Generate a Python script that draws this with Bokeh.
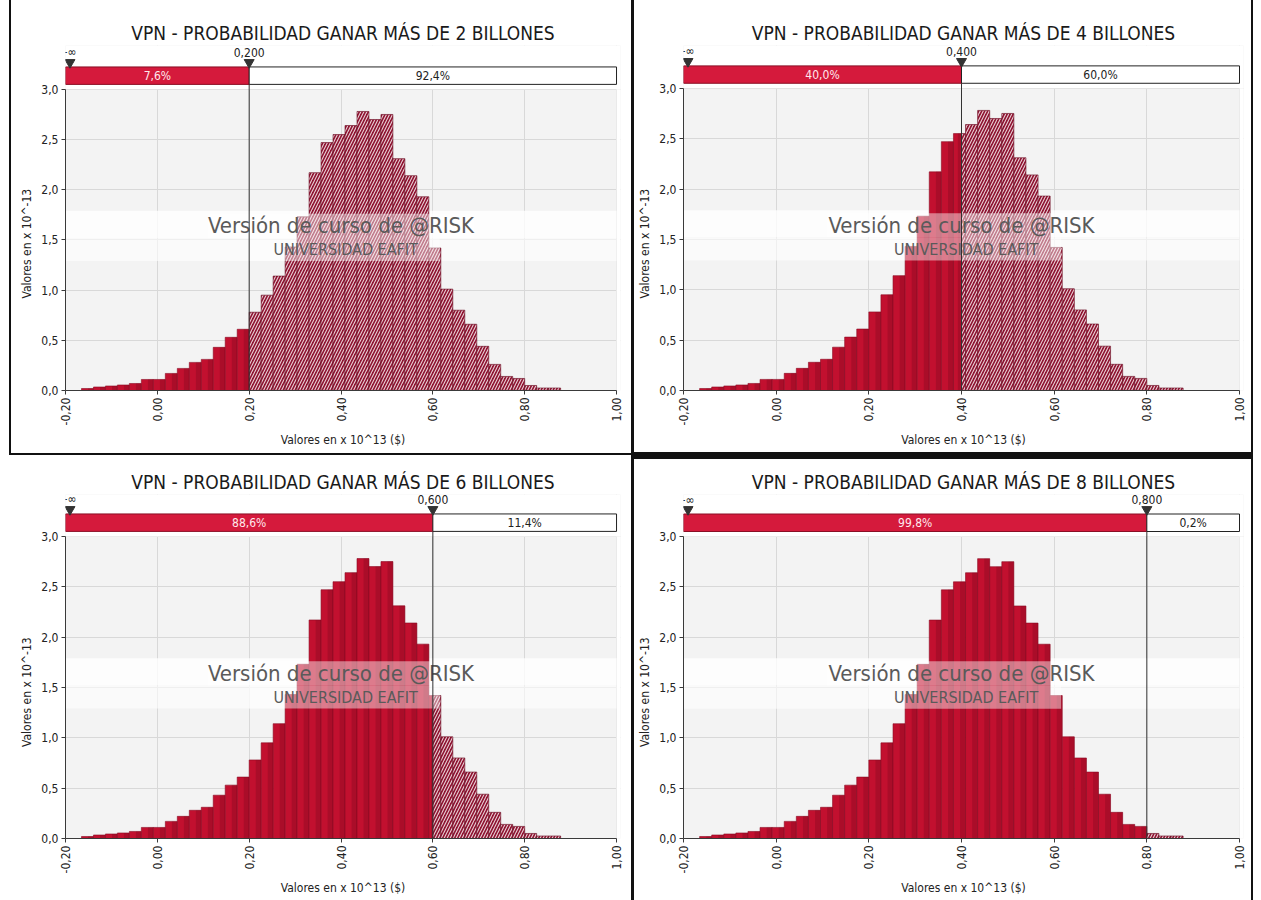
import math
from bokeh.plotting import figure
from bokeh.layouts import gridplot
from bokeh.models import FixedTicker
from bokeh.core.properties import value
from bokeh.embed import file_html
from bokeh.resources import INLINE

# ---------------- data ----------------
bin_edges = [-0.1652, -0.1391, -0.1130, -0.0870, -0.0609, -0.0348, -0.0087, 0.0174,
             0.0435, 0.0696, 0.0957, 0.1217, 0.1478, 0.1739, 0.2000, 0.2261,
             0.2522, 0.2783, 0.3043, 0.3304, 0.3565, 0.3826, 0.4087, 0.4348,
             0.4609, 0.4870, 0.5130, 0.5391, 0.5652, 0.5913, 0.6174, 0.6435,
             0.6696, 0.6957, 0.7217, 0.7478, 0.7739, 0.8000, 0.8261, 0.8522, 0.8783]
density = [0.02, 0.035, 0.045, 0.055, 0.07, 0.11, 0.11, 0.17, 0.22, 0.28,
           0.31, 0.43, 0.53, 0.61, 0.78, 0.95, 1.14, 1.43, 1.73, 2.17,
           2.47, 2.55, 2.64, 2.78, 2.70, 2.75, 2.31, 2.14, 1.93, 1.42,
           1.01, 0.80, 0.66, 0.44, 0.26, 0.14, 0.12, 0.05, 0.025, 0.025]

x_ticks = [-0.2, 0.0, 0.2, 0.4, 0.6, 0.8, 1.0]
x_tick_labels = ["-0,20", "0,00", "0,20", "0,40", "0,60", "0,80", "1,00"]
y_ticks = [0.0, 0.5, 1.0, 1.5, 2.0, 2.5, 3.0]
y_tick_labels = ["0,0", "0,5", "1,0", "1,5", "2,0", "2,5", "3,0"]

titles = ["VPN - PROBABILIDAD GANAR MÁS DE 2 BILLONES",
          "VPN - PROBABILIDAD GANAR MÁS DE 4 BILLONES",
          "VPN - PROBABILIDAD GANAR MÁS DE 6 BILLONES",
          "VPN - PROBABILIDAD GANAR MÁS DE 8 BILLONES"]
thresholds = [0.2, 0.4, 0.6, 0.8]
threshold_labels = ["0,200", "0,400", "0,600", "0,800"]
pct_left = ["7,6%", "40,0%", "88,6%", "99,8%"]
pct_right = ["92,4%", "60,0%", "11,4%", "0,2%"]
minus_inf = "-\u221e"
watermark_1 = "Versión de curso de @RISK"
watermark_2 = "UNIVERSIDAD EAFIT"
x_title = "Valores en x 10^13 ($)"
y_title = "Valores en x 10^-13"

X_MIN, X_MAX = -0.2, 1.0
FONT = "Liberation Sans Narrow, DejaVu Sans Condensed, Roboto Condensed, Liberation Sans, sans-serif"

# geometry per panel (px): figure size, position of x=-0.2 and x=1.0, borders
geoms = [
    dict(w=631, h=455, x0=65, x1=620, bt=44, bb=65),
    dict(w=630, h=455, x0=51, x1=609, bt=45, bb=63),
    dict(w=631, h=445, x0=60, x1=616, bt=38, bb=62),
    dict(w=630, h=445, x0=52, x1=608, bt=39, bb=62),
]
EXT_R = 4                       # extra frame px beyond x=1.0
span30 = [302, 304, 303, 302]   # px between y=0 and y=3.0
# screenshot frame lines, drawn as inset shadows of each figure element
frame_css = [
    "inset 9px 0 0 0 #fff, inset 0 -2px 0 0 #111, inset 11px 0 0 0 #111",
    "inset -8px 0 0 0 #fff, inset 3px 0 0 0 #111, inset -10px 0 0 0 #111, inset 0 -3px 0 0 #111",
    "none",
    "inset -8px 0 0 0 #fff, inset 3px 0 0 0 #111, inset 0 4px 0 0 #111, inset -10px 0 0 0 #111",
]


def make_panel(i):
    g = geoms[i]
    t = thresholds[i]
    ppx = (g["x1"] - g["x0"]) / (X_MAX - X_MIN)
    xe = X_MAX + EXT_R / ppx
    frame_h = g["h"] - g["bt"] - g["bb"]
    ppu = span30[i] / 3.0
    y_end = frame_h / ppu

    p = figure(width=g["w"], height=g["h"], x_range=(X_MIN, xe), y_range=(0, y_end),
               output_backend="svg", toolbar_location=None,
               min_border_left=g["x0"], min_border_right=g["w"] - g["x1"] - EXT_R,
               min_border_top=g["bt"], min_border_bottom=g["bb"])
    p.background_fill_color = "#f3f3f3"
    p.border_fill_color = "white"
    p.border_fill_alpha = 0.0
    p.outline_line_color = None
    p.styles = {"box-shadow": frame_css[i]}

    p.title.text = titles[i]
    p.title.align = "center"
    p.title.text_font = FONT
    p.title.text_font_size = "19px"
    p.title.text_font_style = "normal"
    p.title.text_color = "#1a1a1a"
    p.title.standoff = 3

    # axes
    p.xaxis.ticker = FixedTicker(ticks=x_ticks)
    p.xaxis.major_label_overrides = dict(zip(x_ticks, x_tick_labels))
    p.xaxis.major_label_orientation = math.pi / 2
    p.xaxis.bounds = (X_MIN, X_MAX)
    p.yaxis.ticker = FixedTicker(ticks=y_ticks)
    p.yaxis.major_label_overrides = dict(zip(y_ticks, y_tick_labels))
    p.yaxis.bounds = (0, 3.0)
    for ax in (p.xaxis[0], p.yaxis[0]):
        ax.axis_line_color = "#3a3a3a"
        ax.major_tick_line_color = "#3a3a3a"
        ax.minor_tick_line_color = None
        ax.major_tick_in = 0
        ax.major_tick_out = 4
        ax.major_label_text_font = FONT
        ax.major_label_text_font_size = "12px"
        ax.major_label_text_color = "#222222"
        ax.axis_label_text_font = FONT
        ax.axis_label_text_font_size = "12px"
        ax.axis_label_text_font_style = "normal"
        ax.axis_label_text_color = "#222222"
        ax.major_label_standoff = 3
    p.xaxis.axis_label = x_title
    # pad (non-breaking spaces) so that the rotated title is centred on 0..3
    p.yaxis.axis_label = y_title + "\u00a0" * 15
    p.xaxis.axis_label_standoff = 5
    p.yaxis.axis_label_standoff = 4

    p.xgrid.grid_line_color = "#d8d8d8"
    p.ygrid.grid_line_color = "#d8d8d8"
    p.xgrid.ticker = FixedTicker(ticks=x_ticks)
    p.ygrid.ticker = FixedTicker(ticks=y_ticks)

    # white area above 3.0 and right of 1.0 (covers grid lines)
    p.quad(left=[X_MIN, X_MAX], right=[xe, xe], bottom=[3.0, 0],
           top=[y_end, 3.0], fill_color="white", line_color=None)

    # watermark band (behind bars)
    p.quad(left=[X_MIN], right=[X_MAX], bottom=[1.52], top=[1.79],
           fill_color="white", fill_alpha=0.8, line_color=None)
    p.quad(left=[X_MIN], right=[X_MAX], bottom=[1.29], top=[1.52],
           fill_color="white", fill_alpha=0.6, line_color=None)

    # histogram split at threshold
    lefts = bin_edges[:-1]
    rights = bin_edges[1:]
    sl, sr, st = [], [], []
    hl, hr, ht = [], [], []
    for a, b, h in zip(lefts, rights, density):
        if b <= t:
            sl.append(a); sr.append(b); st.append(h)
        elif a >= t:
            hl.append(a); hr.append(b); ht.append(h)
        else:
            sl.append(a); sr.append(t); st.append(h)
            hl.append(t); hr.append(b); ht.append(h)
    p.quad(left=sl, right=sr, bottom=0, top=st,
           fill_color="#c2102f", line_color="#8a0a22", line_width=0.6)
    # darker right shading of solid bars
    p.quad(left=[a + 0.55 * (b - a) for a, b in zip(sl, sr)], right=sr, bottom=0, top=st,
           fill_color="#7d0a20", fill_alpha=0.35, line_color=None)
    if hl:
        p.quad(left=hl, right=hr, bottom=0, top=ht,
               fill_color="#8e1230", line_color="#6a0c22", line_width=0.6,
               hatch_pattern="/", hatch_color="white", hatch_alpha=0.8,
               hatch_scale=6, hatch_weight=1.1)

    # watermark text boxes (in front of bars)
    p.quad(left=[0.11], right=[0.69], bottom=[1.52], top=[1.76],
           fill_color="white", fill_alpha=0.45, line_color=None)
    p.quad(left=[0.20], right=[0.615], bottom=[1.29], top=[1.52],
           fill_color="white", fill_alpha=0.45, line_color=None)
    p.text(x=[0.40], y=[1.64], text=[watermark_1], text_font=value(FONT),
           text_font_size="22px", text_color="#5a5a5a", text_align="center",
           text_baseline="middle")
    p.text(x=[0.41], y=[1.40], text=[watermark_2], text_font=value(FONT),
           text_font_size="16px", text_color="#5a5a5a", text_align="center",
           text_baseline="middle")

    # delimiter bar
    bar_bot = 3.0 + 5 / ppu
    bar_top = 3.0 + 22.5 / ppu
    p.segment(x0=[t], y0=[0], x1=[t], y1=[bar_top], line_color="#333333", line_width=1)
    p.quad(left=[X_MIN], right=[t], bottom=[bar_bot], top=[bar_top],
           fill_color="#d51a3c", line_color="#8a0f25", line_width=1)
    p.quad(left=[t], right=[X_MAX], bottom=[bar_bot], top=[bar_top],
           fill_color="white", line_color="#222222", line_width=1)
    ymid = (bar_bot + bar_top) / 2
    p.text(x=[(X_MIN + t) / 2], y=[ymid], text=[pct_left[i]], text_font=value(FONT),
           text_font_size="12px", text_color="#ffe8ec", text_align="center",
           text_baseline="middle")
    p.text(x=[(t + X_MAX) / 2], y=[ymid], text=[pct_right[i]], text_font=value(FONT),
           text_font_size="12px", text_color="#222222", text_align="center",
           text_baseline="middle")
    # markers and labels (the left one nudged inside the plot area so it is not clipped)
    nudge = 4.5 / ppx
    p.scatter(x=[X_MIN + nudge, t], y=[3.0 + 27 / ppu] * 2, marker="inverted_triangle",
              size=10, fill_color="#333333", line_color="#333333")
    p.text(x=[X_MIN + nudge, t], y=[3.0 + 37 / ppu] * 2, text=[minus_inf, threshold_labels[i]],
           text_font=value(FONT), text_font_size="12px", text_color="#222222",
           text_align="center", text_baseline="middle")
    return p


panels = [make_panel(i) for i in range(4)]
grid = gridplot([[panels[0], panels[1]], [panels[2], panels[3]]], toolbar_location=None)

open("out.html", "w").write(file_html(grid, INLINE))
